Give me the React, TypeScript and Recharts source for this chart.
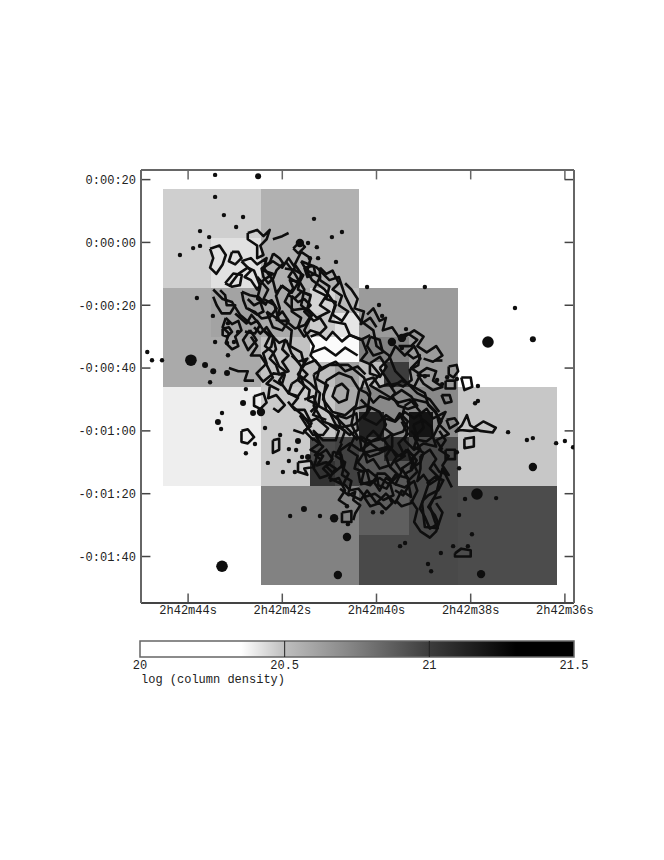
import { ComposedChart, Scatter, XAxis, YAxis, ReferenceArea, ReferenceLine } from 'recharts';

// arcsec east/west of 2h42m40s (15" per second of RA), arcsec of declination
const raTicks = [-60, -30, 0, 30, 60];
const raLabels = ['2h42m44s', '2h42m42s', '2h42m40s', '2h42m38s', '2h42m36s'];
const decTicks = [20, 0, -20, -40, -60, -80, -100];
const decLabels = ['0:00:20', '0:00:00', '-0:00:20', '-0:00:40', '-0:01:00', '-0:01:20', '-0:01:40'];
const cbTicks = [20, 20.5, 21, 21.5];
const cbLabels = ['20', '20.5', '21', '21.5'];

// colour bar: log N -> grey level
const cbLevels = [20, 20.35, 20.5, 20.72, 21, 21.3, 21.5];
const cbGreys = [255, 255, 190, 135, 60, 0, 0];

// x1, x2, y1, y2, log N
const cells = [
  [-68, -36.8, 17, -14.5, 20.46],
  [-52.7, -36.8, 1.4, -14.5, 20.42],
  [-36.8, -5.6, 17, -14.5, 20.55],
  [-68, -36.8, -14.5, -46, 20.58],
  [-52.7, -36.8, -14.5, -30, 20.61],
  [-36.8, -21.2, -14.5, -30, 20.58],
  [-36.8, -21.2, -30, -46, 20.49],
  [-21.2, -13.2, -14.5, -22.5, 20.45],
  [-13.2, -5.6, -14.5, -22.5, 20.51],
  [-21.2, -13.2, -22.5, -30, 20.47],
  [-13.2, -5.6, -22.5, -30, 20.41],
  [-21.2, -5.6, -30, -38, 20.36],
  [-21.2, -13.2, -38, -46, 20.5],
  [-13.2, -5.6, -38, -46, 20.62],
  [-5.6, 26, -14.5, -46, 20.64],
  [-5.6, 10.4, -30, -38, 20.74],
  [-5.6, 2.4, -38, -46, 20.5],
  [2.4, 10.4, -38, -46, 21.0],
  [-68, -36.8, -46, -77.6, 20.39],
  [-36.8, -21.2, -46, -77.6, 20.47],
  [-21.2, -13.2, -46, -62, 20.48],
  [-13.2, -5.6, -46, -62, 20.58],
  [-21.2, -13.2, -62, -69.6, 20.95],
  [-21.2, -13.2, -69.6, -77.6, 21.05],
  [-13.2, -5.6, -62, -77.6, 20.98],
  [-5.6, 26, -46, -62, 20.71],
  [-5.6, 2.4, -54, -62, 21.13],
  [10.4, 18, -54, -62, 21.2],
  [-5.6, 10.4, -62, -77.6, 20.9],
  [2.4, 10.4, -62, -69.6, 21.08],
  [10.4, 26, -62, -77.6, 20.95],
  [26, 57.5, -46, -77.6, 20.48],
  [-36.8, -5.6, -77.6, -109, 20.74],
  [-5.6, 10.4, -77.6, -93.2, 20.87],
  [10.4, 26, -77.6, -93.2, 20.95],
  [-5.6, 26, -93.2, -109, 20.95],
  [26, 57.5, -77.6, -109, 20.94],
];

const sourcesLarge = [[-49.2, -103.1], [32, -80.1], [35.5, -31.7], [-59.1, -37.5]];
const sourcesMedium = [
  [-12.3, -105.9], [-9.4, -93.8], [-13.5, -87.8], [49.8, -71.5], [33.3, -105.6], [-36.8, -54],
  [-24.4, -0.2], [8.1, -30.4], [4.9, -31.7],
];
const sourcesSmall = [
  [-37.7, 21.1], [49.8, -30.8], [-50.5, -57.2], [-54.6, -39], [-52, -41], [-47.6, -41.6], [-39.3, -54.3],
  [-42.5, -51.1], [-25, -63.2], [-21.8, -68.3], [-23.1, -84.9],
];
const sourcesFaint = [
  [-51.4, 21.5], [-51.4, 14.5], [-48.6, 8.7], [-42.5, 8.1], [-19.9, 7.5], [-11, 3.3], [-14.2, 1.7], [-44.7, 4.9],
  [-56.2, 3.6], [-53.3, 1.7], [-58.4, -1.8], [-56.2, -1.1], [-62.6, -4], [-57.2, -17.7], [-52.1, -23.4],
  [-71.5, -37.5], [-68.3, -37.5], [-73, -34.9], [-53, -44.5], [-41.6, -46.7], [-47.3, -35.9], [-51.4, -31.7],
  [-45.4, -31.7], [-47.6, -32], [-47.3, -25.7], [-44.1, -28.5], [-12.9, -6.2], [-18.6, -5], [-21.2, -5],
  [-19, -1.5], [-21.8, -0.2], [-3, -14.2], [15.4, -14.2], [44.1, -20.9], [0.8, -19.9], [1.8, -23.4], [9.4, -27.6],
  [8.1, -33.6], [15.4, -42.6], [22.5, -42.9], [32.3, -45.7], [25.6, -43.5], [19.3, -43.8], [20.9, -45.1],
  [-49.2, -54.3], [-49.5, -59.4], [-38.7, -64.2], [-41.6, -67.1], [-34.6, -70.2], [-29.8, -73.1], [-26, -73.1],
  [-27.9, -69.6], [-35.5, -59.1], [-30.7, -61.3], [-27.9, -65.8], [-25.6, -66.1], [-23.7, -68.3], [-27.5, -87.1],
  [-18, -87.1], [-9.4, -84], [-9.1, -89.7], [31.4, -51.2], [32.3, -50.5], [41.9, -60.4], [47.9, -62.9], [49.8, -62.3],
  [57.2, -63.9], [60, -63.2], [62.6, -65.2], [28.2, -81.7], [38.1, -81.4], [26.3, -86.8], [30.4, -92.9], [29.1, -96.7],
  [24.4, -96.7], [20.5, -98.9], [16.4, -102.4], [17.4, -104.7], [9.1, -95.7], [7.5, -96.7], [-1.1, -85.9], [1.8, -85.9],
  [26.3, -71.9], [25.6, -66.8],
];

// contour vertices
const contours = [
  [[-53, -2], [-50, -1], [-48, -4], [-49, -7], [-51, -10], [-53, -8], [-52, -5], [-53, -2]],
  [[-46, -3], [-44, -3], [-43, -5], [-45, -7], [-47, -6], [-46, -3]],
  [[-41, 3], [-38, 4], [-36, 2], [-34, 4], [-35, 1], [-37, -1], [-36, -4], [-38, -5], [-38, -1], [-41, 1], [-41, 3]],
  [[-33, 1], [-30, 2], [-28, 3]],
  [[-43, -6], [-40, -5], [-38, -7], [-35, -5], [-36, -9], [-33, -10], [-36, -12], [-38, -15], [-40, -12], [-42, -11], [-40, -9], [-43, -6]],
  [[-47, -14], [-44, -10], [-41, -8], [-39, -9], [-37, -14], [-38, -18], [-35, -20]],
  [[-52, -15], [-49, -18], [-46, -19], [-43.5, -23], [-40, -26], [-38, -25], [-36, -28], [-34, -30], [-35.5, -33], [-33, -35], [-31, -39.5], [-29, -41], [-31, -44], [-28, -48], [-25, -49.5], [-27, -52], [-23.5, -55], [-21, -58.5], [-23, -60], [-20, -63]],
  [[-38, -11], [-34.5, -15], [-36, -18], [-32.5, -20], [-31, -25], [-27, -28], [-27.5, -33], [-24, -35], [-23, -39], [-25, -42], [-21, -45], [-18, -48], [-18.5, -52], [-15, -54], [-13, -58], [-10, -60], [-11.5, -64]],
  [[-29, -6], [-26, -10], [-23, -15], [-24, -20], [-20.5, -23], [-23, -28], [-20, -33], [-21, -36], [-18, -39.5], [-19, -43.5], [-15.5, -45.5], [-17, -48.5], [-16, -53.4], [-12, -56.5], [-8.5, -60], [-6, -63]],
  [[-24, -6], [-19, -8], [-15, -12], [-12, -11], [-10, -17], [-8, -21], [-5, -25], [-1, -28], [0, -33], [4, -36], [6, -41], [9, -44], [13, -48], [17, -50], [20, -54]],
  [[-24, -6], [-20.5, -12], [-16.5, -15], [-13, -20], [-15, -25], [-10, -26], [-8.5, -29.5], [-4.6, -31], [-3, -35], [-5, -37.5], [-1.5, -39], [1, -42], [-2, -45.5], [3, -48.5], [7, -51], [10.7, -50], [14, -54]],
  [[-21, -30], [-18.5, -29], [-16, -31], [-14, -28.5], [-11, -31.5], [-8.5, -29.5], [-5, -31], [-2, -29.5]],
  [[-23, -39], [-19.5, -37.5], [-17.5, -40], [-13, -38], [-10, -41], [-6, -39.5], [-3.5, -42]],
  [[-20.5, -35], [-16.5, -33.5], [-13, -36], [-10, -33.5], [-6, -36]],
  // nucleus rings
  [[-13, -46], [-11, -45], [-9, -47], [-9.5, -50], [-12, -51], [-14, -49], [-13, -46]],
  [[-16, -44], [-12, -41.5], [-8, -43], [-5.5, -47], [-6.5, -52], [-10, -55], [-14, -54], [-17, -50], [-16, -44]],
  [[-20, -42], [-15, -39], [-9, -39], [-4, -43], [-2, -48], [-3, -54], [-7, -58], [-12, -59], [-17, -57], [-20, -52], [-19, -47], [-20, -42]],
  // dense south-east knot
  [[-11, -64], [-13, -68], [-10, -70], [-11, -74], [-8, -76], [-9, -80], [-5, -82], [-3, -79], [0, -83], [3, -80], [6, -83], [8, -79], [11, -81], [10, -76], [13, -73], [11, -69], [14, -66], [12, -62], [15, -59], [14, -55]],
  [[-7, -62], [-9, -66], [-6, -68], [-7, -72], [-4, -73], [-5, -77], [-1, -76], [1, -79], [3, -75], [6, -77], [8, -73], [6, -70], [9, -68], [7, -64], [10, -61], [8, -57]],
  [[-3, -62], [-1, -60], [2, -63], [5, -61], [5, -65], [3, -68], [4, -71], [1, -72], [-1, -69], [-3, -70], [-4, -66], [-3, -62]],
  [[-5, -50], [-2, -53], [-4, -56], [0, -58], [3, -55], [6, -57], [9, -54], [12, -56], [16, -53], [18, -56], [22, -54], [20, -58], [23, -61], [19, -63], [21, -66]],
  [[9, -52], [12, -50], [16, -51], [19, -54], [20, -58], [18, -62], [19, -65], [15, -64], [12, -66], [9, -63], [10, -59], [8, -56], [9, -52]],
  [[-7, -53], [-3, -52], [1, -54], [3, -58], [1, -62], [-3, -64], [-6, -62], [-8, -58], [-7, -53]],
  [[14, -68], [17, -66], [19, -69], [17, -72], [20, -75], [17, -77], [15, -74], [13, -76], [14, -72], [14, -68]],
  [[-15, -58], [-12, -60], [-13, -63], [-17, -63], [-20, -60], [-18, -64], [-21, -66], [-17, -68], [-19, -71], [-16, -70], [-13, -72], [-15, -75], [-11, -77]],
  [[0, -66], [4, -65], [7, -68], [10, -66], [11, -70], [8, -72], [10, -75], [6, -74], [4, -77], [1, -75], [-2, -77], [-3, -73], [-6, -70], [-4, -67], [0, -66]],
  [[1, -40], [4, -37], [6, -33], [9, -36], [12, -33], [14, -37], [11, -40], [14, -42], [12, -46], [8, -44], [5, -46], [3, -43], [1, -40]],
  [[17, -75.6], [14.5, -83], [15.4, -90.6], [19.5, -91], [18.5, -88.5], [17, -84], [19, -80], [21, -72], [24, -78]],
  [[-11.6, -66.2], [-8.4, -64], [-5.2, -66.2], [-2, -64], [1.1, -66.2], [4.3, -65.1], [6.4, -68.3], [4.3, -71.5], [7, -74.1], [4.3, -76.8], [5.4, -80.5], [2.2, -82], [-0.5, -80], [-3.6, -81], [-5.8, -78.4], [-8.4, -78.9], [-10.5, -76.8], [-8.9, -73.6], [-11, -71.5], [-11.6, -66.2]],
  [[-5.8, -73], [-2.6, -72.5], [0, -74.7], [-2, -77.3], [-5.2, -76.3], [-5.8, -73]],
  [[0, -73.6], [2.7, -73.6], [4.8, -75.7], [3.2, -78.4], [0.6, -77.3], [0, -73.6]],
  [[7.5, -68.3], [10.1, -66.2], [12.8, -69.4], [11.2, -72.5], [9.1, -73.6], [10.7, -76.8], [8.5, -80.5], [5.9, -78.9]],
  [[-11.6, -78.4], [-8.9, -80.5], [-6.8, -79.4], [-7.4, -82], [-5.2, -83.7], [-6.8, -86.3], [-7.4, -88.4]],
  [[16, -76.8], [18.6, -74.7], [21.3, -75.7], [19.7, -78.9], [16.5, -80.5], [14.9, -82], [13.8, -84.7], [15.4, -87.4], [17, -91.1], [19.7, -89.5], [18.6, -86.9], [16.5, -84.2], [18.1, -81.6], [20.7, -81]],
  [[-24.4, -55], [-21.2, -57], [-19.1, -56], [-15.4, -59.2], [-17, -61.3], [-20.2, -61.3], [-21.7, -59.2], [-24.4, -55]],
  [[-12.7, -55], [-9.6, -56], [-6.4, -54.4], [-5.9, -59.7], [-8.5, -61.3], [-11.2, -59.2], [-12.7, -55]],
  [[-5.3, -61.8], [-1.6, -63.4], [2.1, -62.4], [4.2, -65.5], [1, -67.1], [-2.1, -68.2], [-4.8, -66.1], [-5.3, -61.8]],
  [[2.6, -56], [5.8, -57], [7.4, -54.4], [10, -57], [8.5, -60.2], [5.3, -61.3], [2.6, -59.2], [2.6, -56]],
  [[-13.8, -66.6], [-11.2, -67.7], [-10.6, -70.8], [-13.8, -73.5], [-15.9, -71.4], [-14.3, -69.3], [-13.8, -66.6]],
  [[-20.2, -62.4], [-17, -65], [-19.6, -67.7], [-17.5, -69.3]],
  [[-15, -76], [-12, -75], [-10, -79], [-12, -82], [-9, -84]],
  [[-4, -81], [-2, -84], [1, -83], [3, -85], [5, -83], [4, -81]],
  [[6, -77], [9, -78], [12, -76], [13, -79], [11, -83], [8, -84], [6, -82]],
  [[11, -60], [13, -62], [12, -65], [15, -67], [14, -70], [11, -72], [12, -68], [9, -66]],
  [[20, -60], [22, -63], [20, -66], [23, -68], [21, -71], [23, -74], [20, -73], [18, -70]],
  [[11, -82], [13, -85], [12, -89], [14, -92], [17, -94], [19, -92], [21, -86], [19, -83]],
  [[-19, -68], [-16, -66], [-14, -69], [-17, -72], [-15, -74], [-18, -75], [-20, -72], [-19, -68]],
  // east arm
  [[9.6, -35.3], [11.7, -36.9], [13.8, -35.9], [13.3, -39.1], [10.6, -40.6], [11.2, -43.8], [8.5, -45.9], [6.4, -44.9], [4.3, -45.4]],
  [[-2.1, -38.5], [1.1, -36.4], [3.2, -39.6], [1.1, -42.8], [-2.1, -41.7], [-2.1, -38.5]],
  [[11.7, -45.9], [15.4, -48], [16.5, -51.8], [18.6, -53.9], [20.7, -57], [19.1, -59.7]],
  [[20.7, -48.6], [23.3, -48.6], [23.9, -50.7], [21.8, -51.2], [20.7, -48.6]],
  [[22.3, -56.5], [24.9, -56], [26, -57.6], [23.3, -59.2], [22.3, -56.5]],
  [[11.7, -58.1], [14.9, -56.5], [17.5, -58.7], [18, -61.8], [15.9, -63.4], [13.3, -62.9], [11.7, -58.1]],
  [[18.5, -37.6], [21, -37.6]],
  [[14, -42.4], [17, -42.4]],
  [[-3, -23], [-1, -21], [1, -25], [3, -24], [2, -28], [5, -27], [7, -30], [10, -29], [13, -31], [11, -33], [7, -33]],
  [[-2, -30], [1, -31], [2, -35], [-1, -36], [-3, -33], [-2, -30]],
  [[-4, -44], [-1, -43], [1, -46], [4, -45], [6, -48], [4, -50], [1, -49], [-1, -51], [-3, -48], [-5, -47], [-4, -44]],
  [[5, -49], [8, -47], [11, -49], [13, -52], [10, -53], [7, -52], [5, -49]],
  [[9, -30], [12, -28], [15, -30], [13, -33], [16, -35], [19, -33], [21, -36], [18, -38], [15, -37]],
  [[13, -42], [16, -40], [19, -41], [18, -44], [21, -46], [18, -47], [15, -45], [13, -42]],
  // north-west and middle of the galaxy
  [[-36, -8], [-33, -6], [-30, -8], [-28, -5], [-26, -8], [-28, -11], [-25, -13], [-27, -16], [-30, -14], [-32, -16], [-33, -12], [-36, -8]],
  [[-24, -3], [-21, -5], [-22, -9], [-18, -11], [-20, -15], [-16, -17], [-18, -20], [-15, -22], [-19, -24], [-22, -21], [-21, -17], [-25, -15], [-24, -10], [-26, -7], [-24, -3]],
  [[-35, -22], [-32, -24], [-30, -22], [-28, -25], [-30, -28], [-33, -27], [-35, -22]],
  [[-40, -30], [-38, -33], [-40, -36], [-37, -36], [-35, -39], [-33, -43], [-35, -45], [-31, -47]],
  [[-47, -40], [-44, -41], [-41, -41], [-42, -44], [-39, -44]],
  [[-27, -45], [-24, -43], [-23, -46], [-25, -49], [-28, -48], [-27, -45]],
  [[-32.9, -3.5], [-30.8, -5.1], [-29.7, -6.7], [-31.8, -8.8], [-32.9, -11.5], [-34.5, -13], [-36, -11], [-36.6, -8.3], [-33.9, -6.2], [-32.9, -3.5]],
  [[-29.2, -8.3], [-26, -8.8], [-23.3, -10.4], [-24.4, -12.5], [-27.6, -12], [-26.5, -14.6], [-28.1, -16.8], [-26, -17.8], [-23.9, -15.7], [-20.7, -16.8]],
  [[-26.5, -1.9], [-24.4, 0.2], [-22.8, -1.4], [-24.9, -3.5], [-26.5, -1.9]],
  [[-48.2, -13], [-45.6, -9.9], [-42.9, -10.4], [-43.5, -13.6], [-46.1, -14.1], [-48.2, -13]],
  [[-49.8, -15.2], [-48.2, -16.8], [-47.7, -20], [-45, -20], [-46.6, -22.6], [-49.3, -22.6], [-50.9, -20], [-52, -17.3]],
  [[-42.9, -15.7], [-40.3, -16.8], [-37.6, -17.3], [-35.5, -19.4], [-33.4, -18.4], [-31.8, -21], [-33.9, -23.7], [-36.6, -24.2], [-38.7, -22.1], [-41.4, -21], [-42.4, -18.4], [-42.9, -15.7]],
  [[-45, -22.6], [-41.4, -25.8], [-39.8, -23.1], [-37.1, -26.3], [-38.7, -29], [-41.9, -28.4]],
  [[-30.2, -13.6], [-27.6, -15.7], [-29.2, -18.9], [-26.5, -21.5], [-22.8, -21], [-20.7, -23.1], [-22.8, -26.3], [-26, -27.4], [-28.6, -25.2], [-31.8, -24.7], [-30.8, -21], [-32, -17], [-30.2, -13.6]],
  [[-30.7, -25.2], [-28, -24.7]],
  [[-40.3, -27.9], [-42.5, -31.1], [-40.9, -34.3], [-38.2, -31.1], [-40.3, -27.9]],
  [[-36.1, -27.9], [-32.9, -30], [-33.5, -33.2], [-36.1, -35.3], [-35, -38.5], [-38.2, -41.7], [-36.1, -44.3], [-32.9, -41.7], [-29.2, -42.2], [-30.2, -45.4], [-32.9, -43.8]],
  [[-28.7, -31.1], [-27.1, -35.3], [-23.9, -39.6], [-25, -43.8], [-21.3, -47], [-21.8, -50.2], [-18.6, -51.8], [-20.2, -54.9], [-16, -56.5]],
  [[-34, -45.9], [-34.5, -49.6], [-31.9, -48.6], [-29.2, -51.8], [-31.3, -53.9], [-32.9, -52.8]],
  [[-28.2, -50.7], [-26, -53.3], [-22.9, -53.3], [-20.7, -57.6], [-23.4, -60.8], [-26.5, -59.7]],
  [[-23, -8], [-20, -7.5], [-19.5, -10], [-22, -11], [-23, -8]],
  [[-48, -24], [-46, -26], [-44, -25], [-43, -28], [-45, -30], [-44, -33], [-46, -34], [-48, -32], [-47, -29], [-49, -27], [-48, -24]],
  [[-33, -30], [-31, -32], [-29, -31], [-30, -34], [-28, -36], [-30, -38], [-28, -41], [-31, -42], [-32, -39], [-34, -37], [-32, -34], [-33, -30]],
  [[-27, -17], [-25, -19], [-23, -18], [-21, -20], [-23, -22], [-20, -25], [-18, -24], [-16, -27], [-18, -29], [-21, -28], [-23, -30], [-25, -27], [-24, -24], [-27, -22], [-27, -17]],
  [[-18, -8], [-16, -10], [-14, -9], [-12, -13], [-14, -15], [-11, -17], [-12, -20], [-9, -22], [-11, -25], [-14, -23], [-13, -19], [-16, -18], [-15, -14], [-18, -12], [-18, -8]],
  [[-10, -13], [-8, -15], [-6, -18], [-7, -21], [-4, -22], [-5, -26], [-2, -24], [0, -27]],
  [[-27, -36], [-25, -38], [-22, -37], [-24, -40], [-22, -42], [-24, -44]],
  [[-23, -50], [-20, -49], [-19, -52], [-21, -54]],
  [[-41, -18], [-39, -20], [-37, -19], [-36, -22], [-38, -23], [-41, -21]],
  [[-39, -27], [-37, -29], [-35, -27], [-33, -30]],
  // isolated rings
  [[-49, -27.5], [-47, -27], [-46, -28.5], [-47.5, -30], [-49, -29.5], [-49, -27.5]],
  [[23, -39.5], [25.5, -39], [26, -41], [24.5, -43], [23, -42], [23, -39.5]],
  [[27, -43], [30, -43], [30.5, -46], [28, -47], [27, -43]],
  [[22, -44], [25, -44], [25, -46.5], [22, -46.5], [22, -44]],
  [[-43, -60], [-41, -59.5], [-39, -62], [-41, -64], [-43, -63.5], [-43, -60]],
  [[-39, -49], [-36, -48], [-35, -51], [-37, -53], [-39, -52], [-39, -49]],
  [[-33, -63], [-31, -62.5], [-31, -66], [-33, -67], [-33, -63]],
  [[-25, -70], [-21, -69.5], [-20, -71.5], [-23, -72], [-22, -74], [-25, -73], [-25, -70]],
  [[-11, -86], [-8, -85.5], [-8, -89], [-11, -89], [-11, -86]],
  [[28, -62.5], [31, -62], [31, -65], [28, -65.5], [28, -62.5]],
  [[22, -66], [25, -66], [25, -69], [22, -69], [22, -66]],
  [[25, -99], [27, -97.5], [30, -98], [30, -100], [25, -100], [25, -99]],
  [[25, -60.4], [27.2, -58.2], [28.8, -55], [29.8, -58.2], [32.3, -59.8], [29.8, -60], [26.6, -59.7], [25, -60.4]],
  [[31, -59], [34, -57], [38, -59], [37, -60.5], [33, -60], [31, -59]],
];

const toPoints = (pts: number[][]) => pts.map(([x, y]) => ({ x, y }));

const greyOf = (v: number) => {
  let i = 0;
  while (i < cbLevels.length - 2 && v > cbLevels[i + 1]) i++;
  const t = Math.min(1, Math.max(0, (v - cbLevels[i]) / (cbLevels[i + 1] - cbLevels[i])));
  const g = Math.round(cbGreys[i] + t * (cbGreys[i + 1] - cbGreys[i]));
  return `rgb(${g},${g},${g})`;
};

const X_MIN = -75;
const X_MAX = 62.9;
const Y_MIN = -114.8;
const Y_MAX = 23.06;
const TICK_LEN = 3;

const FONT = '"Liberation Mono", monospace';
const FRAME = '#666';
const INK = '#0e0e0e';
const tickStyle = { fontFamily: FONT, fontSize: 12, fill: '#222' };

const dot = (r: number) => (p: any) => <circle cx={p.cx} cy={p.cy} r={r} fill={INK} />;
const noDot = () => <g />;

function ColumnDensityMap() {
  return (
    <ComposedChart width={664} height={640} margin={{ top: 170, right: 90, bottom: 0, left: 0 }}>
      <XAxis
        type="number"
        dataKey="x"
        domain={[X_MIN, X_MAX]}
        ticks={raTicks}
        interval={0}
        allowDataOverflow
        height={37}
        tickLine={false}
        tickSize={1}
        axisLine={{ stroke: '#444', strokeWidth: 2 }}
        tick={tickStyle}
        tickMargin={1}
        tickFormatter={(v: number) => raLabels[raTicks.indexOf(v)]}
      />
      <YAxis
        type="number"
        dataKey="y"
        domain={[Y_MIN, Y_MAX]}
        ticks={decTicks}
        interval={0}
        allowDataOverflow
        width={141}
        tickLine={false}
        tickSize={5}
        axisLine={{ stroke: FRAME, strokeWidth: 2 }}
        tick={tickStyle}
        tickMargin={0}
        tickFormatter={(v: number) => decLabels[decTicks.indexOf(v)]}
      />
      <XAxis xAxisId="top" orientation="top" type="number" domain={[X_MIN, X_MAX]} ticks={raTicks} mirror tick={false} tickLine={false} axisLine={{ stroke: FRAME, strokeWidth: 2 }} />
      <YAxis yAxisId="right" orientation="right" type="number" domain={[Y_MIN, Y_MAX]} ticks={decTicks} mirror tick={false} tickLine={false} axisLine={{ stroke: FRAME, strokeWidth: 2 }} />
      {cells.map(([x1, x2, y1, y2, v], i) => (
        <ReferenceArea key={`cell-${i}`} x1={x1} x2={x2} y1={y1} y2={y2} fill={greyOf(v)} fillOpacity={1} stroke="none" shapeRendering="crispEdges" />
      ))}
      {raTicks.map((t) => (
        <ReferenceLine key={`b-${t}`} segment={[{ x: t, y: Y_MIN }, { x: t, y: Y_MIN + TICK_LEN }]} stroke="#555" strokeWidth={1.5} />
      ))}
      {raTicks.map((t) => (
        <ReferenceLine key={`t-${t}`} segment={[{ x: t, y: Y_MAX }, { x: t, y: Y_MAX - TICK_LEN }]} stroke="#666" strokeWidth={1.5} />
      ))}
      {decTicks.map((t) => (
        <ReferenceLine key={`l-${t}`} segment={[{ x: X_MIN, y: t }, { x: X_MIN + TICK_LEN, y: t }]} stroke="#444" strokeWidth={1.5} />
      ))}
      {decTicks.map((t) => (
        <ReferenceLine key={`r-${t}`} segment={[{ x: X_MAX, y: t }, { x: X_MAX - TICK_LEN, y: t }]} stroke="#444" strokeWidth={1.5} />
      ))}
      {contours.map((c, i) => (
        <Scatter key={`contour-${i}`} data={toPoints(c)} line={{ stroke: INK, strokeWidth: 2.6, strokeLinejoin: 'round' }} lineType="joint" shape={noDot} isAnimationActive={false} />
      ))}
      <Scatter data={toPoints(sourcesLarge)} shape={dot(5.8)} isAnimationActive={false} />
      <Scatter data={toPoints(sourcesMedium)} shape={dot(4.2)} isAnimationActive={false} />
      <Scatter data={toPoints(sourcesSmall)} shape={dot(3)} isAnimationActive={false} />
      <Scatter data={toPoints(sourcesFaint)} shape={dot(2.2)} isAnimationActive={false} />
    </ComposedChart>
  );
}

function ColorBar() {
  return (
    <ComposedChart width={664} height={60} margin={{ top: 11, right: 90, bottom: 0, left: 140 }}>
      <defs>
        <linearGradient id="cb" x1="0" x2="1" y1="0" y2="0">
          {cbLevels.map((v, i) => (
            <stop key={v} offset={(v - 20) / 1.5} stopColor={`rgb(${cbGreys[i]},${cbGreys[i]},${cbGreys[i]})`} />
          ))}
        </linearGradient>
      </defs>
      <XAxis
        type="number"
        dataKey="x"
        domain={[20, 21.5]}
        ticks={cbTicks}
        interval={0}
        height={33}
        tickLine={false}
        tickSize={2}
        axisLine={false}
        tick={tickStyle}
        tickMargin={1}
        tickFormatter={(v: number) => cbLabels[cbTicks.indexOf(v)]}
      />
      <YAxis type="number" dataKey="y" domain={[0, 1]} hide />
      <Scatter data={cbTicks.map((x) => ({ x, y: 0 }))} shape={noDot} isAnimationActive={false} />
      <ReferenceArea x1={20} x2={21.5} y1={0} y2={1} fill="url(#cb)" fillOpacity={1} stroke={FRAME} strokeWidth={1.5} />
      <ReferenceLine x={20.5} stroke="#222" strokeWidth={1} />
      <ReferenceLine x={21} stroke="#222" strokeWidth={1} />
    </ComposedChart>
  );
}

export default function App() {
  return (
    <div style={{ position: 'absolute', left: 0, top: 0, width: 664, height: 860, background: '#fff', overflow: 'hidden' }}>
      <ColumnDensityMap />
      <div style={{ position: 'absolute', left: 0, top: 630 }}>
        <ColorBar />
      </div>
      <div style={{ position: 'absolute', left: 141, top: 673, fontFamily: FONT, fontSize: 12, color: '#222', lineHeight: '14px' }}>
        log (column density)
      </div>
    </div>
  );
}
